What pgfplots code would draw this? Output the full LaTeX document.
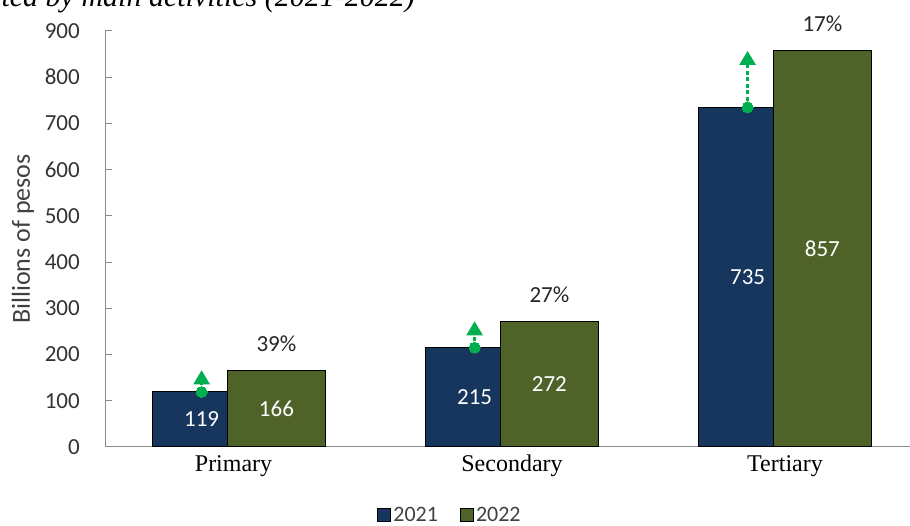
\documentclass[border=0pt]{standalone}
\usepackage{fontspec}
\setmainfont{Carlito}
\newfontfamily\timesf{Liberation Serif}
\usepackage{pgfplots}
\pgfplotsset{compat=1.18}
\usepackage{pgfplotstable}
\usetikzlibrary{arrows.meta}
\definecolor{navy}{RGB}{23,54,93}
\definecolor{olive}{RGB}{79,98,40}
\definecolor{agreen}{RGB}{0,176,80}
\definecolor{axgray}{RGB}{140,140,140}
\definecolor{txtgray}{RGB}{64,64,64}

\pgfplotstableread{
x v21 v22
0 119 166
1 215 272
2 735 857
}\bars
\pgfplotstableread{
x y lab
-0.137 59.5 119
0.863 107.5 215
1.863 367.5 735
}\midA
\pgfplotstableread{
x y lab
0.137 83 166
1.137 136 272
2.137 428.5 857
}\midB
\pgfplotstableread{
x y lab
0.137 166 39
1.137 272 27
2.137 857 17
}\pct

\begin{document}
\begin{tikzpicture}
\path[use as bounding box] (0pt,0pt) rectangle (910pt,526pt);
\node[anchor=base east, font=\timesf\itshape\fontsize{30}{30}\selectfont, inner sep=0pt] at (415pt,519pt) {Gross domestic product generated by main activities (2021-2022)};
\begin{axis}[
  at={(105pt,79pt)}, anchor=south west,
  scale only axis, width=805pt, height=416pt,
  xmin=-0.491, xmax=2.458, ymin=0, ymax=900,
  ytick={0,100,...,900},
  xtick={-0.02,1,2}, xticklabels={Primary,Secondary,Tertiary},
  axis lines*=left,
  axis line style={axgray, line width=1pt},
  ytick align=inside, major tick length=7pt,
  ytick style={axgray, line width=1pt},
  xtick style={draw=none},
  /pgf/number format/assume math mode=true,
  yticklabel style={font=\fontsize{23}{23}\selectfont, text=black!80, inner sep=0pt, anchor=east, xshift=-25pt},
  xticklabel style={font=\timesf\fontsize{24}{24}\selectfont, text=black, inner sep=0pt, anchor=north, yshift=-8pt},
  ylabel={Billions of pesos},
  ylabel style={font=\fontsize{26}{26}\selectfont, text=txtgray, at={(axis description cs:-0.102,0.5)}, anchor=center, rotate=0},
  legend columns=2,
  legend style={at={(axis description cs:0.4286,-0.163)}, anchor=center, draw=none, fill=none,
    font=\fontsize{22}{22}\selectfont, text=txtgray, inner sep=0pt,
    /tikz/every even column/.append style={column sep=20pt}},
  legend image code/.code={\draw[#1, line width=1pt] (0pt,-6.5pt) rectangle (13pt,6.5pt);},
  clip=false,
]
\addplot[ybar, bar width=0.359, bar shift=-0.137, fill=navy, draw=black, line width=1pt] table[x=x,y=v21]{\bars};
\addlegendentry{2021}
\addplot[ybar, bar width=0.359, bar shift=0.137, fill=olive, draw=black, line width=1pt] table[x=x,y=v22]{\bars};
\addlegendentry{2022}
% value labels
\addplot[forget plot, draw=none, mark=none, point meta=explicit symbolic,
  nodes near coords, every node near coord/.style={anchor=center, text=white, font=\fontsize{23}{23}\selectfont}]
  table[x=x,y=y,meta=lab]{\midA};
\addplot[forget plot, draw=none, mark=none, point meta=explicit symbolic,
  nodes near coords, every node near coord/.style={anchor=center, text=white, font=\fontsize{23}{23}\selectfont}]
  table[x=x,y=y,meta=lab]{\midB};
\addplot[forget plot, draw=none, mark=none, point meta=explicit symbolic,
  nodes near coords={\pgfplotspointmeta\%}, every node near coord/.style={anchor=center, yshift=27pt, text=black!85, font=\fontsize{23}{23}\selectfont}]
  table[x=x,y=y,meta=lab]{\pct};
% growth arrows
\pgfplotsset{growth/.style={forget plot, agreen, dash pattern=on 4pt off 2.5pt, line width=2.5pt, -{Triangle[width=16pt,length=14pt]}, mark=*, mark indices={1}, mark options={solid, mark size=5.5pt, fill=agreen, draw=agreen, line width=0pt}}}
\addplot[growth] coordinates {(-0.137,119) (-0.137,166)};
\addplot[growth] coordinates {(0.863,215) (0.863,272)};
\addplot[growth] coordinates {(1.863,735) (1.863,857)};
\end{axis}
\end{tikzpicture}
\end{document}
